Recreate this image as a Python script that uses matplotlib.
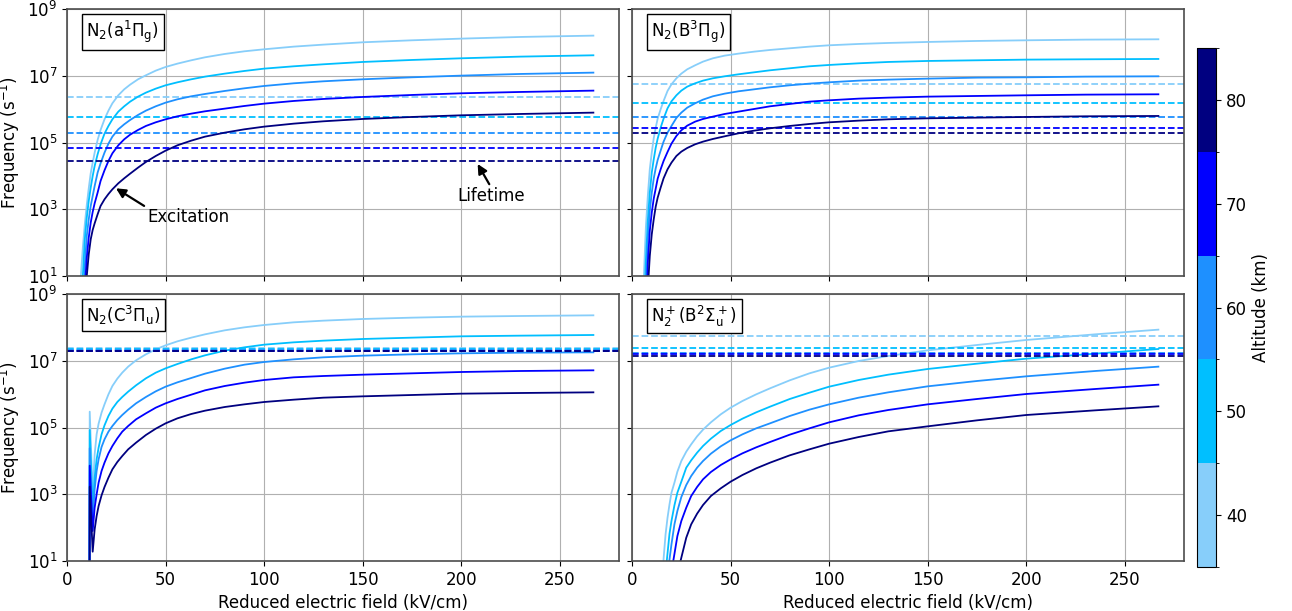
import numpy as np
import matplotlib
matplotlib.use("Agg")
from matplotlib import pyplot as plt
from matplotlib.colors import ListedColormap, BoundaryNorm
from matplotlib.ticker import NullLocator
import matplotlib.cm as cm

# altitudes and their colours
altitudes = [40, 50, 60, 70, 80]
colors = ['#87CEFA', '#00BFFF', '#1E90FF', '#0000FF', '#000080']

# all frequencies below are log10(s^-1)
# N2(a1Pi_g)
a1_x = [6, 7, 8, 9, 10, 11, 12, 13, 14, 15.5, 17, 19, 21, 23, 26, 29, 32, 36, 40, 45, 50, 56, 63, 70, 80, 90,
        100, 115, 130, 150, 175, 200, 230, 267]
a1_exc = [
    [-0.5, 1.0, 1.85, 2.55, 3.13, 3.63, 4.08, 4.4, 4.7, 5.08, 5.38, 5.7, 5.96, 6.18, 6.42, 6.6, 6.74, 6.9, 7.02,
     7.16, 7.27, 7.37, 7.47, 7.56, 7.66, 7.74, 7.80, 7.88, 7.94, 8.01, 8.07, 8.12, 8.17, 8.21],
    [-1, -0.5, 1.0, 2.1, 2.75, 3.25, 3.65, 4.0, 4.3, 4.65, 4.95, 5.27, 5.5, 5.7, 5.93, 6.09, 6.23, 6.38, 6.5,
     6.62, 6.72, 6.81, 6.9, 6.98, 7.07, 7.15, 7.22, 7.29, 7.35, 7.42, 7.48, 7.53, 7.58, 7.62],
    [-1, -1, -0.5, 1.3, 2.2, 2.7, 3.1, 3.4, 3.7, 4.1, 4.38, 4.7, 4.97, 5.18, 5.4, 5.55, 5.68, 5.83, 5.96,
     6.09, 6.2, 6.3, 6.39, 6.46, 6.55, 6.63, 6.7, 6.78, 6.84, 6.9, 6.96, 7.01, 7.06, 7.10],
    [-1, -1, -1, 0.6, 1.55, 2.15, 2.6, 2.92, 3.18, 3.5, 3.85, 4.17, 4.45, 4.68, 4.92, 5.1, 5.24, 5.38, 5.5,
     5.61, 5.70, 5.79, 5.87, 5.94, 6.02, 6.1, 6.17, 6.25, 6.31, 6.37, 6.43, 6.48, 6.52, 6.56],
    [-1, -1, -1, -1, 1.0, 1.65, 2.1, 2.38, 2.58, 2.85, 3.1, 3.3, 3.46, 3.6, 3.78, 3.93, 4.07, 4.25, 4.42,
     4.6, 4.76, 4.92, 5.06, 5.18, 5.3, 5.4, 5.48, 5.57, 5.64, 5.71, 5.77, 5.82, 5.86, 5.90],
]
a1_life = [6.36, 5.78, 5.29, 4.83, 4.46]

# N2(B3Pi_g)
b3_x = [5, 6, 7, 8, 9, 10, 11, 12, 13, 14.5, 16, 18, 20, 22.5, 25, 28, 32, 36, 41, 47, 54, 62, 70, 80, 90,
        100, 115, 130, 150, 175, 200, 230, 267]
b3_exc = [
    [-1, 1.0, 2.45, 3.4, 4.2, 4.7, 5.13, 5.45, 5.72, 6.0, 6.25, 6.55, 6.75, 6.93, 7.07, 7.2, 7.32, 7.43, 7.53,
     7.61, 7.67, 7.73, 7.78, 7.83, 7.88, 7.92, 7.96, 7.99, 8.02, 8.05, 8.07, 8.09, 8.10],
    [-1, -0.3, 1.45, 2.65, 3.5, 4.1, 4.5, 4.85, 5.12, 5.45, 5.72, 6.03, 6.24, 6.42, 6.56, 6.68, 6.78, 6.86,
     6.93, 6.99, 7.05, 7.11, 7.17, 7.23, 7.29, 7.33, 7.38, 7.42, 7.45, 7.47, 7.49, 7.5, 7.51],
    [-1, -1, 0.7, 2.13, 2.95, 3.5, 3.92, 4.23, 4.48, 4.76, 5.03, 5.3, 5.5, 5.74, 5.9, 6.05, 6.18, 6.29, 6.39,
     6.47, 6.54, 6.6, 6.66, 6.72, 6.77, 6.81, 6.86, 6.89, 6.92, 6.95, 6.96, 6.98, 6.99],
    [-1, -1, -0.5, 1.4, 2.35, 2.9, 3.32, 3.62, 3.92, 4.2, 4.45, 4.72, 4.97, 5.2, 5.37, 5.51, 5.63, 5.71, 5.78,
     5.86, 5.93, 6.01, 6.09, 6.16, 6.23, 6.27, 6.32, 6.35, 6.38, 6.4, 6.42, 6.44, 6.45],
    [-1, -1, -1, 0.6, 1.6, 2.25, 2.7, 3.08, 3.35, 3.65, 3.93, 4.2, 4.4, 4.6, 4.73, 4.84, 4.95, 5.03, 5.11,
     5.19, 5.28, 5.36, 5.43, 5.5, 5.56, 5.61, 5.66, 5.7, 5.73, 5.75, 5.77, 5.79, 5.80],
]
b3_life = [6.75, 6.20, 5.77, 5.45, 5.29]

# N2(C3Pi_u)
c3_x = [10.4, 11.5, 13.0, 14, 15, 16, 17.5, 19, 21, 23, 25.5, 28, 31, 35, 40, 45, 50, 56, 63, 70, 80, 90,
        100, 115, 130, 150, 175, 200, 230, 267]
c3_exc = [
    [-30, 5.48, 3.0, 4.2, 4.8, 5.12, 5.45, 5.7, 6.0, 6.25, 6.47, 6.65, 6.83, 7.02, 7.2, 7.35, 7.47, 7.59,
     7.7, 7.8, 7.92, 8.01, 8.08, 8.16, 8.21, 8.26, 8.3, 8.33, 8.35, 8.37],
    [-30, 4.93, 2.5, 3.5, 4.05, 4.4, 4.8, 5.07, 5.35, 5.57, 5.77, 5.92, 6.08, 6.27, 6.48, 6.65, 6.78, 6.91,
     7.05, 7.17, 7.31, 7.41, 7.49, 7.56, 7.61, 7.66, 7.7, 7.74, 7.76, 7.78],
    [-30, 4.38, 2.2, 3.15, 3.7, 4.05, 4.42, 4.65, 4.88, 5.05, 5.23, 5.38, 5.54, 5.73, 5.92, 6.09, 6.23, 6.36,
     6.49, 6.62, 6.77, 6.89, 6.97, 7.05, 7.11, 7.16, 7.2, 7.23, 7.25, 7.26],
    [-30, 3.86, 1.9, 2.6, 3.0, 3.35, 3.7, 3.95, 4.23, 4.45, 4.68, 4.88, 5.05, 5.25, 5.43, 5.6, 5.73, 5.86,
     5.99, 6.12, 6.25, 6.35, 6.43, 6.51, 6.55, 6.59, 6.63, 6.67, 6.7, 6.72],
    [-30, 3.23, 1.28, 1.95, 2.35, 2.65, 2.97, 3.22, 3.5, 3.75, 3.97, 4.15, 4.35, 4.55, 4.78, 4.97, 5.13, 5.28,
     5.41, 5.51, 5.62, 5.7, 5.77, 5.84, 5.9, 5.94, 5.98, 6.02, 6.04, 6.06],
]
c3_life = [7.39, 7.36, 7.33, 7.31, 7.29]

# N2+(B2Sigma_u+)
bp_x = [14, 15, 16, 17, 18, 19, 20, 21.5, 23, 25, 27.5, 30, 33, 36, 40, 45, 50, 56, 63, 70, 80, 90,
        100, 115, 130, 150, 175, 200, 235, 267]
bp_exc = [
    [-1, -0.5, 1.07, 1.8, 2.3, 2.7, 3.05, 3.35, 3.68, 4.0, 4.28, 4.5, 4.74, 4.94, 5.16, 5.4, 5.6, 5.8, 6.0,
     6.18, 6.42, 6.63, 6.8, 7.0, 7.15, 7.32, 7.48, 7.63, 7.8, 7.94],
    [-1, -1, -1, 0.65, 1.23, 1.82, 2.2, 2.67, 3.05, 3.38, 3.8, 4.02, 4.25, 4.45, 4.67, 4.9, 5.08, 5.27, 5.46,
     5.63, 5.86, 6.05, 6.23, 6.43, 6.59, 6.76, 6.92, 7.07, 7.22, 7.36],
    [-1, -1, -1, -1, 0.55, 1.05, 1.5, 2.1, 2.5, 2.92, 3.28, 3.55, 3.8, 4.0, 4.22, 4.44, 4.62, 4.8, 4.98,
     5.13, 5.35, 5.54, 5.7, 5.9, 6.06, 6.24, 6.4, 6.54, 6.7, 6.83],
    [-1, -1, -1, -1, -1, -1, 0.68, 1.21, 1.75, 2.2, 2.6, 2.95, 3.22, 3.45, 3.67, 3.88, 4.05, 4.23, 4.41,
     4.57, 4.79, 4.98, 5.16, 5.37, 5.53, 5.70, 5.86, 6.01, 6.16, 6.29],
    [-1, -1, -1, -1, -1, -1, -1, -1, 0.6, 1.1, 1.7, 2.1, 2.42, 2.68, 2.95, 3.18, 3.38, 3.58, 3.78,
     3.95, 4.17, 4.35, 4.52, 4.72, 4.89, 5.04, 5.22, 5.38, 5.52, 5.64],
]
bp_life = [7.75, 7.40, 7.25, 7.20, 7.16]

panels = [
    (r'N$_2$(a$^1\Pi_\mathrm{g}$)', a1_x, a1_exc, a1_life),
    (r'N$_2$(B$^3\Pi_\mathrm{g}$)', b3_x, b3_exc, b3_life),
    (r'N$_2$(C$^3\Pi_\mathrm{u}$)', c3_x, c3_exc, c3_life),
    (r'N$_2^+$(B$^2\Sigma_\mathrm{u}^+$)', bp_x, bp_exc, bp_life),
]

plt.rcParams['font.size'] = 12
fig = plt.figure(figsize=(12.92, 6.11), dpi=100)

# panel positions (figure fractions)
lefts = [0.0519, 0.4892]
bottoms = [0.5483, 0.0818]
w, h = 0.4272, 0.4365

axes = []
for i in range(4):
    r, c = divmod(i, 2)
    if i == 0:
        ax = fig.add_axes([lefts[c], bottoms[r], w, h])
    else:
        ax = fig.add_axes([lefts[c], bottoms[r], w, h], sharex=axes[0], sharey=axes[0])
    axes.append(ax)

for ax, (label, xs, exc, life) in zip(axes, panels):
    for k in range(len(altitudes)):
        ax.plot(xs, 10.0 ** np.array(exc[k]), color=colors[k], lw=1.3)
        ax.axhline(10.0 ** life[k], color=colors[k], ls='--', lw=1.3)
    ax.set_yscale('log')
    ax.grid(True, color='#b0b0b0', lw=0.8)
    ax.text(0.035, 0.965, label, transform=ax.transAxes, ha='left', va='top', fontsize=12,
            bbox=dict(boxstyle='square,pad=0.28', facecolor='white', edgecolor='black'))
    for sp in ax.spines.values():
        sp.set_color('0.3')
        sp.set_linewidth(1.2)

axes[0].set_xlim(0, 280)
axes[0].set_ylim(1e1, 1e9)
axes[0].set_yticks([1e1, 1e3, 1e5, 1e7, 1e9])
axes[0].yaxis.set_minor_locator(NullLocator())
axes[0].set_xticks([0, 50, 100, 150, 200, 250])

for ax in axes[:2]:
    ax.tick_params(labelbottom=False)
for ax in (axes[1], axes[3]):
    ax.tick_params(labelleft=False)
for ax in (axes[0], axes[2]):
    ax.set_ylabel(r'Frequency (s$^{-1}$)')
for ax in axes[2:]:
    ax.set_xlabel('Reduced electric field (kV/cm)')

# annotations in the first panel
axes[0].annotate('Excitation', xy=(24.8, 10 ** 3.63), xytext=(40.5, 10 ** 2.78),
                 ha='left', va='center',
                 arrowprops=dict(arrowstyle='-|>', color='black', lw=1.6, mutation_scale=14,
                                 relpos=(0.0, 1.0), shrinkA=0, shrinkB=0))
axes[0].annotate('Lifetime', xy=(208.3, 10 ** 4.36), xytext=(215.0, 10 ** 3.4),
                 ha='center', va='center',
                 arrowprops=dict(arrowstyle='-|>', color='black', lw=1.6, mutation_scale=14,
                                 relpos=(0.5, 1.0), shrinkA=0, shrinkB=0))

# discrete altitude colorbar
cmap = ListedColormap(colors)
norm = BoundaryNorm([35, 45, 55, 65, 75, 85], cmap.N)
cax = fig.add_axes([0.9265, 0.072, 0.0147, 0.8494])
sm = cm.ScalarMappable(norm=norm, cmap=cmap)
cb = fig.colorbar(sm, cax=cax, ticks=altitudes)
cb.set_label('Altitude (km)')

fig.savefig('out.png', dpi=100)
